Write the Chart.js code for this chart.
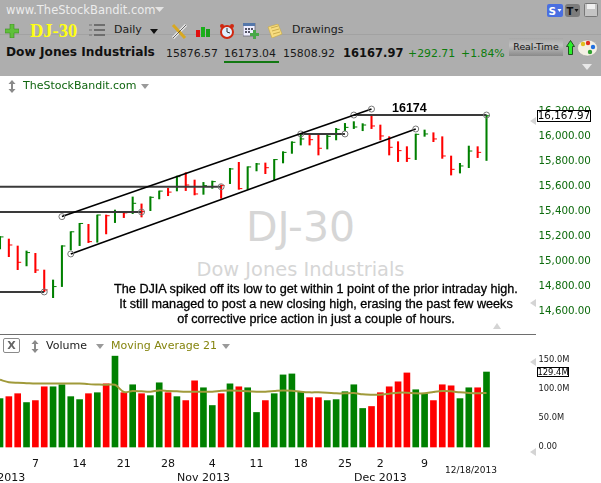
<!DOCTYPE html>
<html>
<head>
<meta charset="utf-8">
<title>DJ-30</title>
<script src="https://cdn.jsdelivr.net/npm/chart.js@4"></script>
<style>
html, body { margin: 0; padding: 0; background: #fff; }
#page { position: relative; width: 601px; height: 483px; overflow: hidden; font-family: "DejaVu Sans", sans-serif; }
#page div, #page span.t { position: absolute; white-space: nowrap; }
#chart { position: absolute; left: 0; top: 0; z-index: 2; }
#header { left: 0; top: 0; width: 601px; height: 76px; background: #aeaeae; z-index: 3; }
#header svg { position: absolute; }
.wm { color: #d6d6d6; z-index: 1; text-align: center; left: 0; width: 601px; }
.note { z-index: 4; font: 12.65px "Liberation Sans", sans-serif; color: #000; -webkit-text-stroke: 0.3px #000; left: 16px; width: 600px; text-align: center; }
</style>
</head>
<body>
<div id="page">
  <div class="wm" style="top:203px;font-size:41px;">DJ-30</div>
  <div class="wm" style="top:258px;font-size:19.4px;">Dow Jones Industrials</div>
  <canvas id="chart" width="601" height="483"></canvas>

  <div id="header">
    <div style="left:0;top:34px;width:601px;height:1px;background:#a2a2a2;"></div>
    <div style="left:6px;top:3px;font-size:11.5px;color:#ececec;">www.TheStockBandit.com</div>
    <svg style="left:155px;top:7px" width="10" height="6"><path d="M0 0h9l-4.500 5z" fill="#e4e4e4"/></svg>
    <svg style="left:5px;top:24px" width="14" height="14"><path d="M5 0h4v5h5v4H9v5H5V9H0V5h5z" fill="#5fc03a" stroke="#3c8c22" stroke-width="0.6"/></svg>
    <div style="left:30px;top:21px;font:bold 18.5px 'Liberation Serif',serif;color:#ffff14;">DJ-30</div>
    <svg style="left:89px;top:23px" width="16" height="14"><path d="M0 1h3v2H0zM0 6h3v2H0zM0 11h3v2H0z" fill="#8f8f8f"/><path d="M5 1h11v2H5zM5 6h11v2H5zM5 11h11v2H5z" fill="#6e6e6e"/></svg>
    <div style="left:114px;top:23px;font-size:11px;color:#1a1a1a;">Daily</div>
    <svg style="left:150px;top:29px" width="9" height="6"><path d="M0 0h8l-4 5z" fill="#111"/></svg>
    <svg style="left:171px;top:23px" width="17" height="16"><path d="M2 15L15 2" stroke="#e8e8e8" stroke-width="3"/><path d="M2 2l12 13" stroke="#d8a820" stroke-width="3"/><path d="M2 15L15 2" stroke="#444" stroke-width="0.8"/></svg>
    <svg style="left:196px;top:26px" width="15" height="11"><path d="M0 4h4v7H0z" fill="#e01010"/><path d="M5 1h4v10H5z" fill="#18b018"/><path d="M10 3h4v8h-4z" fill="#18a018"/></svg>
    <svg style="left:219px;top:23px" width="16" height="16"><circle cx="8" cy="9" r="6" fill="#dff0ff" stroke="#d02810" stroke-width="2"/><path d="M8 5v4l3 1" stroke="#333" fill="none"/><circle cx="3" cy="3" r="2" fill="#d02810"/><circle cx="13" cy="3" r="2" fill="#d02810"/></svg>
    <svg style="left:243px;top:23px" width="17" height="16"><path d="M0 0h12v13H0z" fill="#eef" stroke="#667" stroke-width="0.8"/><path d="M0 0h12v3H0z" fill="#5577aa"/><path d="M2 5h2v2H2zM5 5h2v2H5zM8 5h2v2H8zM2 8h2v2H2zM5 8h2v2H5z" fill="#556"/><path d="M10 7h3v3h3v3h-3v3h-3v-3H7v-3h3z" fill="#48a848"/></svg>
    <svg style="left:267px;top:24px" width="16" height="14"><path d="M1 3l10-3 4 10-10 4z" fill="#f6dc80" stroke="#c8a840" stroke-width="0.6"/><path d="M4 4l7-2M5 7l7-2M6 10l7-2" stroke="#b89838" stroke-width="0.7"/></svg>
    <div style="left:292px;top:23px;font-size:11px;color:#1a1a1a;">Drawings</div>
    <svg style="left:547px;top:4px" width="16" height="13"><rect width="16" height="13" rx="2" fill="#4a6fe0"/><text x="1.500" y="10.500" font-family="DejaVu Sans" font-weight="bold" font-size="10.500" fill="#fff">S</text><path d="M10.500 5h4l-2 3z" fill="#fff"/></svg>
    <svg style="left:565px;top:4px" width="15" height="13"><rect width="15" height="13" rx="3" fill="#7c7c7c"/><text x="1.500" y="10.500" font-family="DejaVu Sans" font-weight="bold" font-size="10" fill="#111">T</text><path d="M9.500 5h4l-2 3z" fill="#111"/></svg>
    <svg style="left:584px;top:3px" width="14" height="14"><rect x="0.500" y="0.500" width="13" height="13" rx="1" fill="#c4c4c4" stroke="#777"/><rect x="3" y="1" width="8" height="5" fill="#f0f0f0"/></svg>
    <div style="left:6px;top:45px;font-size:12.200px;font-weight:bold;color:#111;">Dow Jones Industrials</div>
    <div style="left:166px;top:47px;font-size:10.900px;color:#1a1a1a;">15876.57</div>
    <div style="left:224px;top:47px;font-size:10.900px;color:#1a1a1a;">16173.04</div>
    <div style="left:224px;top:61px;width:55px;height:2px;background:#127812;"></div>
    <div style="left:283px;top:47px;font-size:10.900px;color:#1a1a1a;">15808.92</div>
    <div style="left:343px;top:46px;font-size:11.500px;font-weight:bold;color:#111;">16167.97</div>
    <div style="left:408px;top:47px;font-size:10.900px;color:#0c7c0c;">+292.71</div>
    <div style="left:461px;top:47px;font-size:10.900px;color:#0c7c0c;">+1.84%</div>
    <div style="left:509px;top:38px;width:54px;height:18px;background:linear-gradient(#a8a8a8,#c0c0c0 40%,#8a8a8a);text-align:center;font-size:9.300px;line-height:18px;color:#111;">Real-Time</div>
    <svg style="left:566px;top:40px" width="10" height="15"><path d="M4.500 0.500l4 6H6.500v8h-4v-8H0.500z" fill="#2cf02c" stroke="#0a3a0a" stroke-width="0.8"/></svg>
    <svg style="left:577px;top:39px" width="21" height="18"><ellipse cx="10.500" cy="9" rx="10" ry="8" fill="#f4f0e4" stroke="#999" stroke-width="0.5"/><circle cx="6" cy="5" r="2.200" fill="#e0c020"/><circle cx="11" cy="4" r="2.200" fill="#e03020"/><circle cx="16" cy="8" r="2.200" fill="#2070e0"/><circle cx="13" cy="13" r="2.200" fill="#30a030"/></svg>
    <svg style="left:582px;top:64px" width="11" height="7"><path d="M0 0h10l-5 6z" fill="#e8e8e8"/></svg>
  </div>

  <svg style="position:absolute;left:8px;top:80px;z-index:4" width="8" height="13"><path d="M4 0l3.500 4H5v5h2.500L4 13 .5 9H3V4H.5z" fill="#8a8a8a"/></svg>
  <div style="left:23px;top:79px;font-size:11px;color:#0f650f;z-index:4;">TheStockBandit.com</div>
  <svg style="position:absolute;left:141px;top:84px;z-index:4" width="9" height="6"><path d="M0 0h8l-4 5z" fill="#9a9a9a"/></svg>

  <div class="note" style="top:282px;">The DJIA spiked off its low to get within 1 point of the prior intraday high.</div>
  <div class="note" style="top:297px;">It still managed to post a new closing high, erasing the past few weeks</div>
  <div class="note" style="top:312px;">of corrective price action in just a couple of hours.</div>
  <div style="left:392px;top:101px;font:bold 12.5px 'Liberation Sans',sans-serif;color:#000;z-index:4;">16174</div>

  <div style="left:3px;top:338px;width:15px;height:13px;border:1px solid #8a8a8a;border-radius:2px;text-align:center;font:bold 11px/13px 'DejaVu Sans';color:#666;z-index:4;">X</div>
  <svg style="position:absolute;left:31px;top:340px;z-index:4" width="8" height="13"><path d="M4 0l3.500 4H5v5h2.500L4 13 .5 9H3V4H.5z" fill="#8a8a8a"/></svg>
  <div style="left:46px;top:339px;font-size:11px;color:#222;z-index:4;">Volume</div>
  <svg style="position:absolute;left:96px;top:344px;z-index:4" width="9" height="6"><path d="M0 0h8l-4 5z" fill="#9a9a9a"/></svg>
  <div style="left:111px;top:339px;font-size:11px;color:#85850f;z-index:4;">Moving Average 21</div>
  <svg style="position:absolute;left:222px;top:344px;z-index:4" width="9" height="6"><path d="M0 0h8l-4 5z" fill="#9a9a9a"/></svg>
  <div style="left:445px;top:465px;font-size:9px;color:#111;z-index:4;">12/18/2013</div>
</div>

<script>
const dates = [
    '10/01','10/02','10/03','10/04','10/07','10/08','10/09','10/10','10/11',
    '10/14','10/15','10/16','10/17','10/18','10/21','10/22','10/23','10/24','10/25',
    '10/28','10/29','10/30','10/31','11/01','11/04','11/05','11/06','11/07','11/08',
    '11/11','11/12','11/13','11/14','11/15','11/18','11/19','11/20','11/21','11/22',
    '11/25','11/26','11/27','11/29','12/02','12/03','12/04','12/05','12/06',
    '12/09','12/10','12/11','12/12','12/13','12/16','12/17','12/18'
];
const highs = [
    15197,15178,15122,15082,15063,14929,14849,15125,15237,
    15304,15296,15371,15371,15411,15398,15516,15460,15518,15564,
    15585,15684,15711,15652,15633,15644,15612,15746,15794,15759,
    15786,15789,15818,15880,15960,16019,16019,16014,16014,16067,
    16107,16121,16105,16174,16094,16000,15960,15920,16022,
    16054,16032,16000,15845,15786,15925,15920,16173.04
];
const lows = [
    15098,15036,14932,14962,14908,14755,14707,14796,15090,
    15125,15149,15152,15219,15310,15350,15382,15355,15406,15500,
    15526,15564,15567,15532,15537,15585,15505,15623,15577,15577,
    15725,15703,15655,15789,15866,15933,15933,15853,15901,15974,
    16048,16065,16048,16065,15974,15853,15800,15800,15816,
    16003,15960,15826,15692,15708,15751,15832,15808.92
];
const closes = [
    15195,15130,14991,15069,14929,14769,14796,15122,15236,
    15303,15157,15371,15365,15393,15388,15465,15398,15513,15563,
    15555,15679,15612,15540,15607,15639,15607,15741,15583,15757,
    15781,15751,15816,15874,15955,15982,15976,15907,16003,16059,
    16075,16078,16094,16086,16006,15915,15888,15826,16019,
    16022,15982,15845,15738,15765,15885,15874,16167.97
];
const volumes = [
    83.5,86.9,92,76.7,80.1,103.9,103.9,107.4,86.9,
    81.8,92,93.7,109,156.8,93.7,107.4,92,88.6,110.8,
    93.7,86.9,80.1,114.2,102.2,71.6,92,109,103.9,102.2,
    59.6,80.1,92,124.4,126.1,95.4,85.2,85.2,80.1,81.8,
    95.4,107.4,66.5,69.9,93.7,103.9,112.5,127.8,98.8,
    92,80.1,107.4,105.6,83.5,102.2,102.2,129.4
];
const volumeMa = [
    115.9,111.9,110.8,110.2,109.6,109.6,109.6,109.6,109.6,
    109.6,108.5,107.9,107.4,107.4,94.9,96.6,96,95.4,97.7,
    96.6,96,95.4,95.4,95.4,95.4,97.1,97.7,97.1,96,
    95.4,95.4,96.6,97.7,97.1,95.4,94.3,94.3,93.7,92.6,
    92.6,93.2,90.9,90.3,90.3,92,93.7,93.7,92.6,
    92.6,94.9,96.6,96,94.3,93.2,92.6,93.2
];
const priceTicks = [14600,14800,15000,15200,15400,15600,15800,16000,16200];
const volumeTicks = [0,50,100,150];
const dayTicks = {
    '10/07':'7','10/14':'14','10/21':'21','10/28':'28','11/04':'4','11/11':'11',
    '11/18':'18','11/25':'25','12/02':'2','12/09':'9'
};
const monthTicks = { '10/01':'Oct 2013','11/01':'Nov 2013','12/02':'Dec 2013' };

// start date, start price, end date, end price
const channelLines = [
    ['10/10',15358,'11/29',16222],
    ['10/11',15058,'12/06',16062]
];
const levelLines = [
    ['10/01',15598,'11/05',15598],
    ['10/01',15395,'10/23',15395],
    ['10/01',14753,'10/08',14753],
    ['11/18',16022,'11/25',16022],
    ['11/26',16174,'12/18',16174]
];

const UP = '#008000';
const DOWN = '#ff0000';
const barColors = closes.map((c, i) => (i === 0 || c >= closes[i - 1]) ? UP : DOWN);

const lineDataset = (line, color, width, firstRadius) => ({
    type: 'line',
    yAxisID: 'y',
    data: [{ x: line[0], y: line[1] }, { x: line[2], y: line[3] }],
    borderColor: color,
    borderWidth: width,
    pointRadius: [firstRadius, 3],
    pointBackgroundColor: 'rgba(255,255,255,0)',
    pointBorderColor: '#777',
    pointBorderWidth: 1,
    clip: false,
    order: 1
});

// last value boxes and the small grey arrows on the right side
const valueTags = {
    id: 'valueTags',
    afterDraw(chart) {
        const ctx = chart.ctx;
        const y = chart.scales.y, v = chart.scales.yVol;
        const arrow = (px, py) => {
            ctx.fillStyle = '#d4d4d4';
            ctx.beginPath();
            ctx.moveTo(px, py);
            ctx.lineTo(px + 6, py - 4);
            ctx.lineTo(px + 6, py + 4);
            ctx.fill();
        };
        const tag = (text, left, py, w, h, font) => {
            ctx.fillStyle = '#fff';
            ctx.fillRect(left, Math.round(py - h / 2), w, h);
            ctx.strokeStyle = '#000';
            ctx.lineWidth = 1;
            ctx.strokeRect(left + 0.5, Math.round(py - h / 2) + 0.5, w - 1, h - 1);
            ctx.fillStyle = '#000';
            ctx.font = font;
            ctx.textAlign = 'center';
            ctx.textBaseline = 'middle';
            ctx.fillText(text, left + w / 2, Math.round(py) + 0.5);
        };
        // panel divider
        ctx.fillStyle = '#6e6e6e';
        ctx.fillRect(0, 334, 536, 1);
        arrow(530, 121);
        arrow(530, 303);
        arrow(530, 362);
        arrow(530, 452);
        tag('16,167.97', 537, y.getPixelForValue(closes[55]), 54, 12, '10.3px "DejaVu Sans"');
        tag('129.4M', 537, v.getPixelForValue(volumes[55]), 32, 10, '8.4px "DejaVu Sans"');
        ctx.fillStyle = '#d4d4d4';
        ctx.beginPath();
        ctx.moveTo(493, 329);
        ctx.lineTo(501, 329);
        ctx.lineTo(497, 323);
        ctx.fill();
    }
};

const datasets = [
    {
        type: 'bar', yAxisID: 'yVol', grouped: false, clip: false, order: 5,
        data: volumes, backgroundColor: barColors, barThickness: 6
    },
    {
        type: 'line', yAxisID: 'yVol', clip: false, order: 4,
        data: volumeMa, borderColor: '#a09a3a', borderWidth: 2, pointRadius: 0, tension: 0.3
    },
    {
        type: 'bar', yAxisID: 'y', grouped: false, clip: false, order: 3,
        data: highs.map((h, i) => [lows[i], h]), backgroundColor: barColors, barThickness: 1.4
    },
    {
        type: 'line', yAxisID: 'y', clip: false, order: 2, showLine: false,
        data: closes, pointStyle: 'dash', pointRadius: 3.5, pointBorderWidth: 1,
        pointBorderColor: barColors
    }
];
channelLines.forEach(l => datasets.push(lineDataset(l, '#000', 1.6, 3)));
levelLines.forEach(l => datasets.push(lineDataset(l, '#3a3a3a', 2, l[0] === '10/01' ? 0 : 3)));

new Chart(document.getElementById('chart'), {
    data: { labels: dates, datasets: datasets },
    plugins: [valueTags],
    options: {
        responsive: false,
        animation: false,
        events: [],
        layout: { autoPadding: false, padding: { top: 96, left: 0, right: 0, bottom: 0 } },
        plugins: { legend: { display: false }, tooltip: { enabled: false } },
        scales: {
            x: {
                type: 'category',
                offset: false,
                grid: { display: false },
                border: { display: false },
                ticks: {
                    autoSkip: false, maxRotation: 0, padding: 2,
                    color: '#111',
                    font: { family: 'DejaVu Sans', size: 11, lineHeight: 1.27 },
                    callback(value, index) {
                        const d = dates[index];
                        if (!dayTicks[d] && !monthTicks[d]) return '';
                        return [dayTicks[d] || '', monthTicks[d] || ''];
                    }
                },
                afterFit(scale) {
                    scale.height = 36;
                    scale.paddingLeft = 0;
                    scale.paddingRight = 0;
                }
            },
            y: {
                position: 'right',
                stack: 'panels',
                stackWeight: 238,
                min: 14415,
                max: 16327,
                grid: { display: false, drawTicks: false },
                border: { display: false },
                ticks: {
                    padding: 52,
                    color: '#0c6a0c',
                    font: { family: 'DejaVu Sans', size: 10.3 },
                    callback: v => v.toLocaleString('en-US', { minimumFractionDigits: 2 })
                },
                afterBuildTicks(axis) { axis.ticks = priceTicks.map(v => ({ value: v })); },
                afterFit(scale) {
                    scale.width = 114.5;
                    scale.paddingTop = 0;
                    scale.paddingBottom = 0;
                }
            },
            yVol: {
                position: 'right',
                stack: 'panels',
                stackWeight: 113,
                min: 0,
                max: 195,
                grid: { display: false, drawTicks: false },
                border: { display: false },
                ticks: {
                    padding: 52,
                    color: '#222',
                    font: { family: 'DejaVu Sans', size: 8.3 },
                    callback: v => v === 0 ? '0.00' : v.toFixed(1) + 'M'
                },
                afterBuildTicks(axis) { axis.ticks = volumeTicks.map(v => ({ value: v })); },
                afterFit(scale) {
                    scale.width = 114.5;
                    scale.paddingTop = 0;
                    scale.paddingBottom = 0;
                }
            }
        }
    }
});
</script>
</body>
</html>
